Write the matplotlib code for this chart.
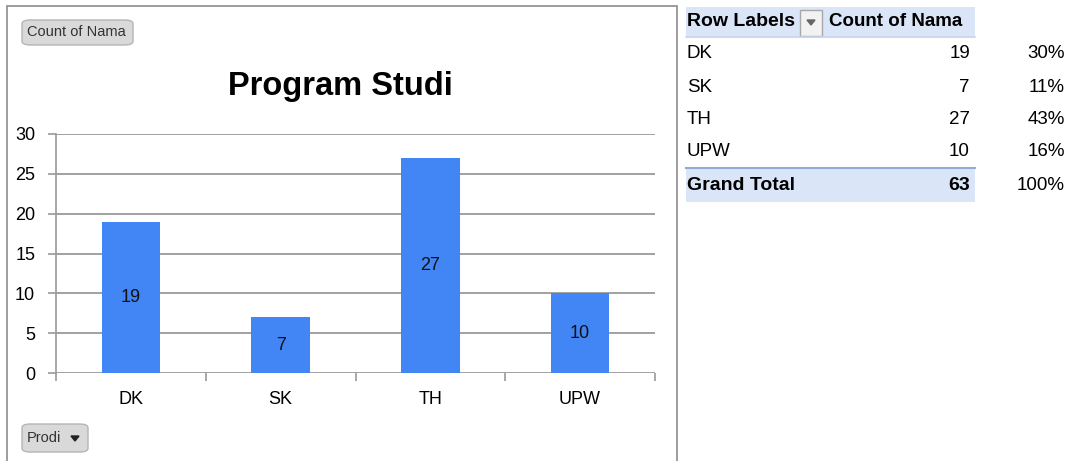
import matplotlib
matplotlib.use("Agg")
import matplotlib.pyplot as plt
from matplotlib.patches import Rectangle, FancyBboxPatch, Polygon
from matplotlib.lines import Line2D

# data
categories = ["DK", "SK", "TH", "UPW"]
counts = [19, 7, 27, 10]
percents = ["30%", "11%", "43%", "16%"]
total = 63
total_pct = "100%"
yticks = [0, 5, 10, 15, 20, 25, 30]

W, H = 1070, 461
ARIAL = ["Liberation Sans", "DejaVu Sans"]

fig = plt.figure(figsize=(W / 100, H / 100), dpi=100)


def fx(x):
    return x / W


def fy(y):
    return 1 - y / H


# chart frame
fig.patches.append(Rectangle((fx(7), fy(475)), fx(677 - 7), (475 - 6) / H,
                             transform=fig.transFigure, fill=False,
                             edgecolor="#8c8c8c", linewidth=1.2))

# plot area
ax = fig.add_axes([fx(56), fy(373), fx(655 - 56), (373 - 134) / H])
bars = ax.bar(range(len(categories)), counts, width=0.39, color="#4285F4", zorder=3)
ax.bar_label(bars, labels=[str(c) for c in counts], label_type="center",
             fontsize=13, family=ARIAL, color="#111111")

ax.set_xlim(-0.5, len(categories) - 0.5)
ax.set_ylim(0, 30)
ax.set_yticks(yticks)
ax.set_yticklabels([str(t) for t in yticks], family=ARIAL, fontsize=13)
ax.yaxis.grid(True, color="#9a9a9a", linewidth=1.3, zorder=0)
ax.tick_params(axis="y", length=6, width=1.2, color="#9a9a9a", pad=9)

ax.set_xticks(range(len(categories)))
ax.set_xticklabels(categories, family=ARIAL, fontsize=13)
ax.set_xticks([i - 0.5 for i in range(len(categories) + 1)], minor=True)
ax.tick_params(axis="x", which="major", length=0, pad=13)
ax.tick_params(axis="x", which="minor", length=6, width=1.2, color="#9a9a9a")

for s in ["top", "right", "bottom"]:
    ax.spines[s].set_visible(False)
ax.spines["left"].set_color("#9a9a9a")
ax.spines["left"].set_linewidth(1.2)

fig.text(fx(340), fy(87), "Program Studi", ha="center", va="center",
         fontsize=23.5, fontweight="bold", family=ARIAL)

# pivot buttons
def button(x0, y0, w, h, label, arrow=False):
    fig.patches.append(FancyBboxPatch((fx(x0), fy(y0 + h)), fx(w), h / H,
                                      boxstyle="round,pad=0,rounding_size=0.008",
                                      transform=fig.transFigure,
                                      facecolor="#d9d9d9", edgecolor="#b5b5b5",
                                      linewidth=1))
    fig.text(fx(x0 + 5), fy(y0 + h / 2), label, ha="left", va="center",
             fontsize=10.5, family=ARIAL, color="#333333")
    if arrow:
        cx, cy = x0 + w - 13, y0 + h / 2
        fig.patches.append(Polygon([(fx(cx - 4), fy(cy - 2)), (fx(cx + 4), fy(cy - 2)),
                                    (fx(cx), fy(cy + 3))], closed=True,
                                   transform=fig.transFigure, color="#222222"))


button(22, 20, 111, 25, "Count of Nama")
button(22, 424, 66, 28, "Prodi", arrow=True)

# pivot table
band = "#dbe5f8"
fig.patches.append(Rectangle((fx(686), fy(38)), fx(975 - 686), 31 / H,
                             transform=fig.transFigure, facecolor=band, edgecolor="none"))
fig.patches.append(Rectangle((fx(686), fy(202)), fx(975 - 686), 35 / H,
                             transform=fig.transFigure, facecolor=band, edgecolor="none"))
fig.lines.append(Line2D([fx(686), fx(975)], [fy(37.5), fy(37.5)],
                        transform=fig.transFigure, color="#c6d6f2", linewidth=1.2))
fig.lines.append(Line2D([fx(686), fx(975)], [fy(168), fy(168)],
                        transform=fig.transFigure, color="#8eaadf", linewidth=1.5))
# dropdown box
fig.patches.append(Rectangle((fx(800), fy(36)), fx(22), 26 / H,
                             transform=fig.transFigure, facecolor="#f2f2f2",
                             edgecolor="#a8a8a8", linewidth=1))
fig.patches.append(Polygon([(fx(807), fy(20)), (fx(815), fy(20)), (fx(811), fy(25))],
                           closed=True, transform=fig.transFigure, color="#666666"))

fig.text(fx(687), fy(22), "Row Labels", ha="left", va="center",
         fontsize=14, fontweight="bold", family=ARIAL)
fig.text(fx(829), fy(22), "Count of Nama", ha="left", va="center",
         fontsize=13.5, fontweight="bold", family=ARIAL)

row_y = [53, 87, 119, 151]
for cat, c, p, y in zip(categories, counts, percents, row_y):
    fig.text(fx(687), fy(y), cat, ha="left", va="center", fontsize=13.5, family=ARIAL)
    fig.text(fx(970), fy(y), str(c), ha="right", va="center", fontsize=13.5, family=ARIAL)
    fig.text(fx(1065), fy(y), p, ha="right", va="center", fontsize=13.5, family=ARIAL)

fig.text(fx(687), fy(185), "Grand Total", ha="left", va="center",
         fontsize=14, fontweight="bold", family=ARIAL)
fig.text(fx(970), fy(185), str(total), ha="right", va="center",
         fontsize=14, fontweight="bold", family=ARIAL)
fig.text(fx(1065), fy(185), total_pct, ha="right", va="center", fontsize=13.5, family=ARIAL)

fig.savefig("out.png", dpi=100)
